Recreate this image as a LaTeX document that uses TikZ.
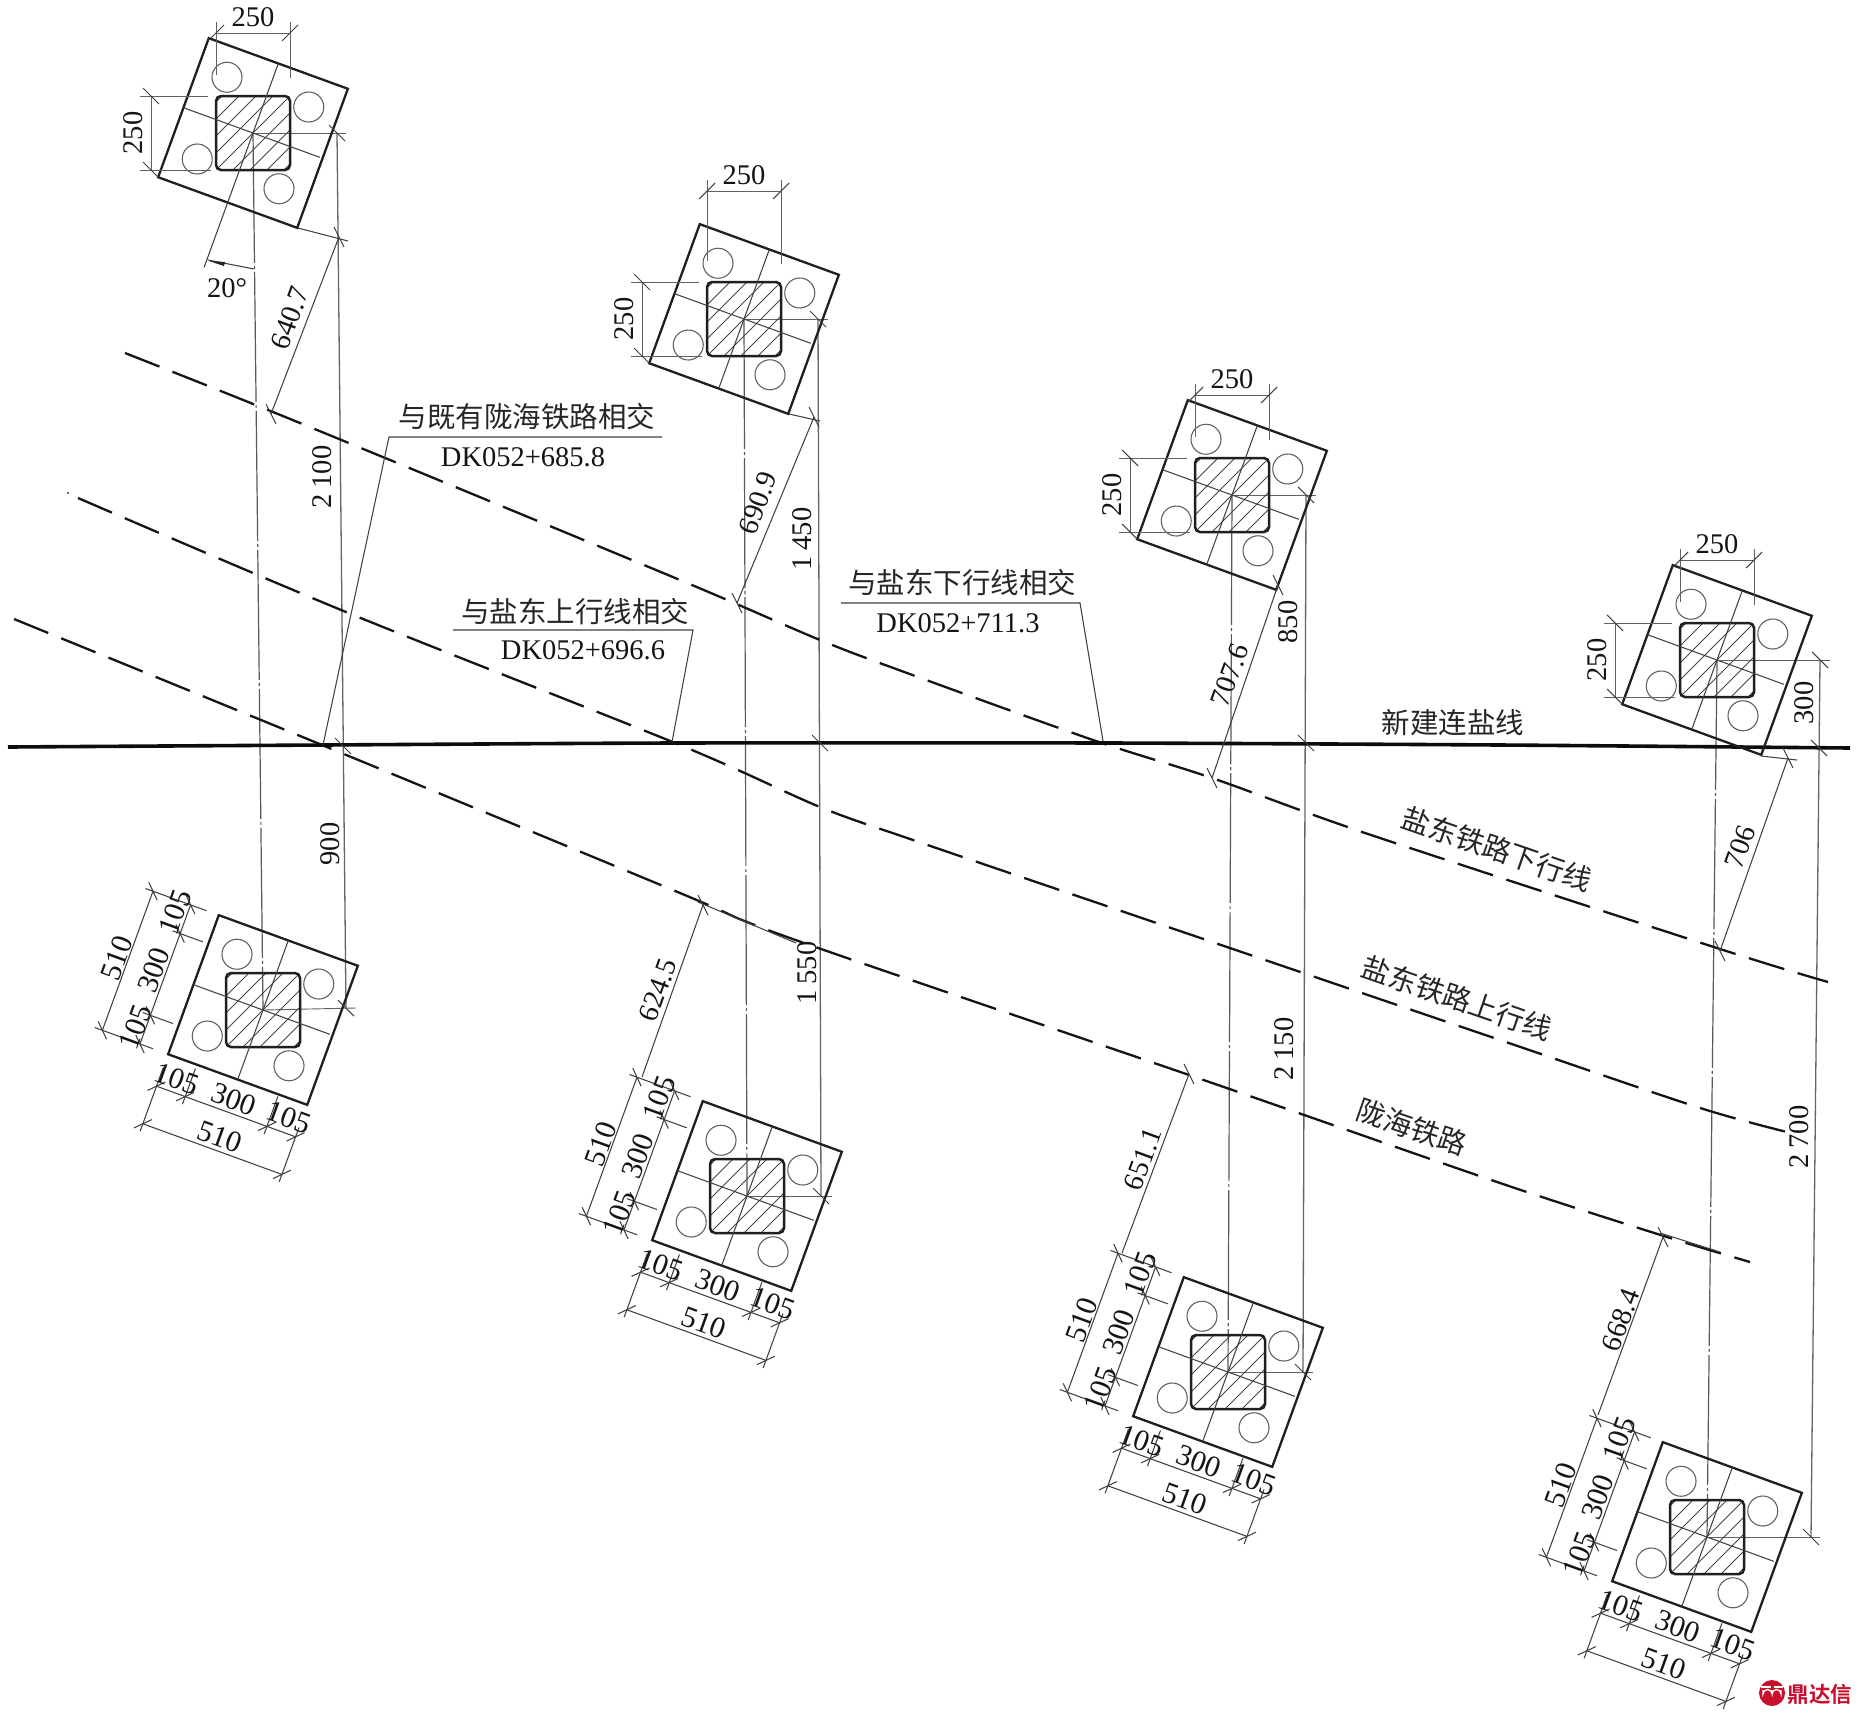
\documentclass[tikz,border=0pt]{standalone}
\usepackage{fontspec}
\setmainfont{Liberation Serif}
\newfontfamily\cjk{Noto Sans CJK SC}
\newfontfamily\cjkb[BoldFont={Noto Sans CJK SC Bold}]{Noto Sans CJK SC}
\definecolor{logored}{HTML}{C8102E}
\tikzset{
  thinl/.style={draw=black!75,line width=1.05pt},
  thinh/.style={draw=black!62,line width=0.9pt},
  greyl/.style={draw=black!60,line width=1.3pt},
  centerl/.style={draw=black!65,line width=1.2pt,dash pattern=on 130pt off 3pt on 3pt off 3pt},
  platel/.style={draw=black!88,line width=2.3pt,line join=miter},
  pilel/.style={draw=black!88,line width=2.5pt,rounded corners=5pt},
  hatchl/.style={draw=black!72,line width=0.9pt},
  circl/.style={draw=black!62,line width=1.1pt},
  rail/.style={draw=black!92,line width=2.3pt,dash pattern=on 37pt off 14pt},
  newline/.style={draw=black!95,line width=3.6pt},
  dimt/.style={font=\fontsize{28.5}{28.5}\selectfont,text=black!92,inner sep=0pt},
  dimb/.style={font=\fontsize{30}{30}\selectfont,text=black!92,inner sep=0pt},
  cjkt/.style={font=\cjk\fontsize{28.5}{29}\selectfont,text=black!85,inner sep=0pt},
}
\newcommand{\tkb}[2]{\draw[thinl] (#1-8,#2-8)--(#1+8,#2+8);}
\newcommand{\tks}[2]{\draw[thinl] (#1-8,#2+8)--(#1+8,#2-8);}
\newcommand{\tkr}[2]{\draw[thinl] (#1-5,#2-10)--(#1+5,#2+10);}
\newcommand{\foundation}[2]{%
  \begin{scope}[shift={(#1,#2)}]
    \begin{scope}
      \clip[rounded corners=5pt] (-37,-37) rectangle (37,37);
      \foreach \i in {-68,-51,...,68} {\draw[hatchl] (\i-40,40)--(\i+40,-40);}
    \end{scope}
    \draw[pilel] (-37,-37) rectangle (37,37);
    \begin{scope}[rotate=-20]
      \draw[platel] (-74,-74) rectangle (74,74);
      \draw[thinl] (-74,0)--(71,0);
      \draw[thinl] (0,-74)--(0,74);
      \foreach \a/\b in {-43.5/-43.5,43.5/-43.5,-43.5/43.5,43.5/43.5}
        {\draw[circl] (\a,\b) circle (15);}
    \end{scope}
  \end{scope}}
\newcommand{\topdims}[4]{%
  \begin{scope}[shift={(#1,#2)}]
    \draw[thinh] (-37,#3-11)--(-37,-58);
    \draw[thinh] (37,#3-11)--(37,-55);
    \draw[thinh] (-37,#3)--(37,#3);
    \tks{-37}{#3} \tks{37}{#3}
    \node[dimt] (#4t) at (0,#3-16) {250};
    \draw[thinh] (-113,-37)--(-45,-37);
    \draw[thinh] (-113,37)--(-42,37);
    \draw[thinh] (-102,-37)--(-102,37);
    \tkb{-102}{-37} \tkb{-102}{37}
    \node[dimt,rotate=90] (#4l) at (-120,0) {250};
  \end{scope}}
\newcommand{\lowdims}[3]{%
  \begin{scope}[shift={(#1,#2)}]
    \begin{scope}[rotate=-20]
      \draw[thinl] (-74,148)--(74,148);
      \draw[thinl] (-74,108)--(74,108);
      \draw[thinl] (-74,88)--(-74,156);
      \draw[thinl] (74,98)--(74,156);
      \draw[thinl] (-43.5,78)--(-43.5,116);
      \draw[thinl] (43.5,76)--(43.5,116);
      \foreach \a in {-74,-43.5,43.5,74} {\draw[thinl] (\a-7,108+7)--(\a+7,108-7);}
      \foreach \a in {-74,74} {\draw[thinl] (\a-7,148+7)--(\a+7,148-7);}
      \draw[thinl] (-144,-74)--(-144,74);
      \draw[thinl] (-104,-74)--(-104,74);
      \draw[thinl] (-152,-74)--(-87,-74);
      \draw[thinl] (-152,74)--(-90,74);
      \draw[thinl] (-112,-43.5)--(-80,-43.5);
      \draw[thinl] (-112,43.5)--(-80,43.5);
      \foreach \b in {-74,-43.5,43.5,74} {\draw[thinl] (-104-7,\b-7)--(-104+7,\b+7);}
      \foreach \b in {-74,74} {\draw[thinl] (-144-7,\b-7)--(-144+7,\b+7);}
      \node[dimb,rotate=-20] (#3b) at (3,134) {510};
      \node[dimb,rotate=-20] (#3c) at (3,94) {300};
      \node[dimb,rotate=-20] (#3d) at (-57,94) {105};
      \node[dimb,rotate=-20] (#3e) at (61,92) {105};
      \node[dimb,rotate=70] (#3f) at (-155,1) {510};
      \node[dimb,rotate=70] (#3g) at (-116,0) {300};
      \node[dimb,rotate=70] (#3h) at (-116,-62) {105};
      \node[dimb,rotate=70] (#3i) at (-114,60) {105};
    \end{scope}
  \end{scope}}
\begin{document}
\begin{tikzpicture}[x=1pt,y=-1pt]
\useasboundingbox (0,0) rectangle (1862,1716);
\fill[white] (0,0) rectangle (1862,1716);
\coordinate (F1) at (253,133);  \coordinate (F5) at (263,1010);
\coordinate (F2) at (744,319);  \coordinate (F6) at (747,1196);
\coordinate (F3) at (1232,495); \coordinate (F7) at (1228,1372);
\coordinate (F4) at (1717,660); \coordinate (F8) at (1707,1537);
\coordinate (R1) at (337,133);  \coordinate (R5) at (346,1008);
\coordinate (R2) at (818,319);  \coordinate (R6) at (821,1196);
\coordinate (R3) at (1306,495); \coordinate (R7) at (1303,1372);
\coordinate (R4) at (1820,660); \coordinate (R8) at (1811,1537);
\foreach \a/\b in {F1/F5,F2/F6,F3/F7,F4/F8} {\draw[centerl] (\a)--(\b);}
\foreach \a/\b in {R1/R5,R2/R6,R3/R7,R4/R8} {\draw[greyl] (\a)--(\b);}
\draw[thinh] (F1)--(346,133); \draw[thinh] (F5)--(356,1008);
\draw[thinh] (F2)--(828,319); \draw[thinh] (F6)--(832,1196);
\draw[thinh] (F3)--(1316,495);\draw[thinh] (F7)--(1313,1372);
\draw[thinh] (F4)--(1830,660);\draw[thinh] (F8)--(1820,1537);
% railway lines
\draw[rail] plot[smooth,tension=0.5] coordinates {(125,353) (300,423) (680,580) (820,640) (907,673) (1093,740) (1212,778) (1371,835) (1720,949) (1828,982)};
\draw[rail] plot[smooth,tension=0.5] coordinates {(78,498) (346,612) (680,745) (820,807) (913,840) (1133,915) (1500,1040) (1697,1107) (1787,1132)};
\fill[black!80] (68,493) circle (1.2);
\draw[rail] plot[smooth,tension=0.5] coordinates {(14,619) (322,745) (680,893) (747,922) (847,958) (1192,1076) (1500,1183) (1667,1237) (1750,1262)};
\draw[thinl] (698,902)--(796,943);
\draw[thinl] (1660,1233)--(1720,1252);
\draw[newline] plot[smooth,tension=0.4] coordinates {(8,747) (323,745) (673,743) (1109,743) (1500,745) (1850,748)};
% foundations
\foundation{253}{133}\foundation{744}{319}\foundation{1232}{495}\foundation{1717}{660}
\foundation{263}{1010}\foundation{747}{1196}\foundation{1228}{1372}\foundation{1707}{1537}
\topdims{253}{133}{-100}{ua}
\topdims{744}{319}{-128}{ub}
\topdims{1232}{495}{-100}{uc}
\topdims{1717}{660}{-100}{ud}
\lowdims{263}{1010}{la}
\lowdims{747}{1196}{lb}
\lowdims{1228}{1372}{lc}
\lowdims{1707}{1537}{ld}
% ticks on long dimensions
\tkb{337}{133}\tkb{346}{1008}\tkb{343}{746}
\tkb{818}{319}\tkb{821}{1196}\tkb{820}{743}
\tkb{1306}{495}\tkb{1303}{1372}\tkb{1306}{743}
\tkb{1820}{660}\tkb{1811}{1537}\tkb{1819}{748}
% angle of 20 degrees
\begin{scope}[shift={(253,133)},rotate=-20]
  \draw[thinl] (0,74)--(0,143);
\end{scope}
\coordinate (A1) at (208,260); \coordinate (A2) at (254,269);
\draw[thinl] (A1)--(A2);
\fill[black!85] (209,261)--(225,262)--(224,266)--cycle;
\node[dimt] (ang) at (227,288) {20°};
% plate-to-rail distance dimensions
\draw[thinl] (298,228)--(348,241);
\draw[thinl] (339,237)--(271,414); \tkr{339}{237}\tkr{271}{414}
\node[dimt,rotate=70] (d1) at (290,318) {640.7};
\draw[thinl] (789,414)--(820,421);
\draw[thinl] (814,417)--(737,603); \tkr{814}{417}\tkr{737}{603}
\node[dimt,rotate=70] (d2) at (758,503) {690.9};
\draw[thinl] (1278,585)--(1212,778); \tkr{1278}{585}\tkr{1212}{778}
\node[dimt,rotate=70] (d3) at (1230,675) {707.6};
\draw[thinl] (1761,756)--(1797,760);
\draw[thinl] (1788,758)--(1720,951); \tkr{1788}{758}\tkr{1720}{951}
\node[dimt,rotate=70] (d4) at (1740,847) {706};
\draw[thinl] (642,1077)--(703,905); \tkr{703}{905}
\node[dimt,rotate=70] (d6) at (658,990) {624.5};
\draw[thinl] (1122,1253)--(1189,1074); \tkr{1189}{1074}
\node[dimt,rotate=70] (d7) at (1143,1159) {651.1};
\draw[thinl] (1598,1415)--(1663,1237); \tkr{1663}{1237}
\node[dimt,rotate=70] (d8) at (1621,1320) {668.4};
% long dimension labels
\node[dimt,rotate=90] (v1) at (322,477) {2\hspace{0.2em}100};
\node[dimt,rotate=90] (v2) at (330,844) {900};
\node[dimt,rotate=90] (v3) at (802,539) {1\hspace{0.2em}450};
\node[dimt,rotate=90] (v4) at (807,973) {1\hspace{0.2em}550};
\node[dimt,rotate=90] (v5) at (1288,622) {850};
\node[dimt,rotate=90] (v6) at (1284,1049) {2\hspace{0.2em}150};
\node[dimt,rotate=90] (v7) at (1804,703) {300};
\node[dimt,rotate=90] (v8) at (1799,1137) {2\hspace{0.2em}700};
% leaders
\coordinate (L1) at (389,437); \coordinate (L1e) at (662,437); \coordinate (L1t) at (323,745);
\draw[thinl] (L1e)--(L1)--(L1t);
\node[cjkt] (t1) at (527,417) {与既有陇海铁路相交};
\node[dimt] (k1) at (523,457) {DK052+685.8};
\coordinate (L2) at (453,630); \coordinate (L2e) at (693,630); \coordinate (L2t) at (672,742);
\draw[thinl] (L2)--(L2e)--(L2t);
\node[cjkt] (t2) at (575,612) {与盐东上行线相交};
\node[dimt] (k2) at (583,650) {DK052+696.6};
\coordinate (L3) at (841,603); \coordinate (L3e) at (1080,603); \coordinate (L3t) at (1103,741);
\draw[thinl] (L3)--(L3e)--(L3t);
\node[cjkt] (t3) at (962,583) {与盐东下行线相交};
\node[dimt] (k3) at (958,623) {DK052+711.3};
% line names
\node[cjkt] (n1) at (1453,723) {新建连盐线};
\node[cjkt,rotate=-19] (n2) at (1497,849) {盐东铁路下行线};
\node[cjkt,rotate=-19] (n3) at (1457,998) {盐东铁路上行线};
\node[cjkt,rotate=-19] (n4) at (1412,1127) {陇海铁路};
% logo
\fill[logored] (1772,1693) circle (13);
\fill[white] (1761,1686) rectangle (1783,1688);
\fill[logored] (1770.5,1686) rectangle (1773.5,1688);
\draw[white,line width=1.3pt] (1763,1690)--(1763,1694) arc[start angle=180,end angle=360,radius=4.5]--(1772,1690);
\draw[white,line width=1.3pt] (1772,1694) arc[start angle=180,end angle=360,radius=4.5]--(1781,1690);
\node[inner sep=0pt,text=logored,font=\cjkb\bfseries\fontsize{21.5}{21.5}\selectfont] (logo) at (1820,1694) {鼎达信};
\end{tikzpicture}
\end{document}
